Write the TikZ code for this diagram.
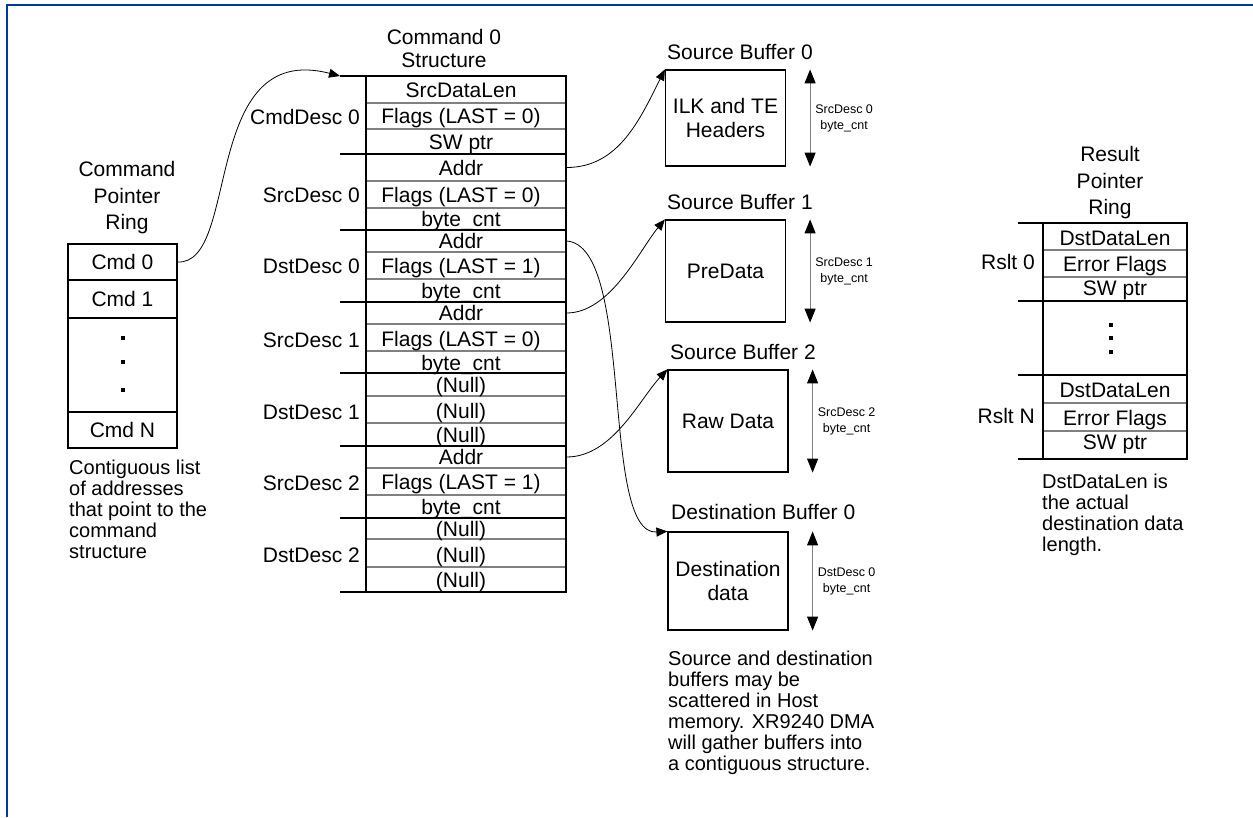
\documentclass[tikz,border=0pt]{standalone}
\usepackage{fontspec}
\setmainfont{Liberation Sans}
\usetikzlibrary{arrows.meta,calc}
\definecolor{frameblue}{RGB}{0,56,160}
\definecolor{rulegray}{RGB}{128,128,128}
\newcommand\fsz[2]{\fontsize{#1}{#2}\selectfont}

\begin{document}
\begin{tikzpicture}[x=1pt,y=-1pt,
  every node/.style={inner sep=0pt},
  celltext/.style={font=\fsz{21}{24},anchor=base},
  tagtext/.style={font=\fsz{21}{24},anchor=base east},
  bufname/.style={font=\fsz{21}{24},anchor=base west},
  notetext/.style={font=\fsz{20}{21},align=left,anchor=north west},
  headtext/.style={font=\fsz{21}{#1},align=center,anchor=north},
  sizetext/.style={font=\fsz{12.5}{16},align=center},
  bufbox/.style={draw,line width=1.2pt,minimum width=120pt,font=\fsz{21}{24},align=center},
  colbox/.style={draw,line width=1.2pt},
  grpline/.style={line width=1.2pt},
  sepline/.style={rulegray,line width=1.1pt},
  link/.style={line width=0.8pt,-{Triangle[length=11pt,width=9pt]}},
  sizearrow/.style={rulegray,line width=1pt,
    {Triangle[length=14pt,width=11pt,color=black]}-{Triangle[length=14pt,width=11pt,color=black]}},
]
\useasboundingbox (0,0) rectangle (1253,817);

% page frame
\draw[frameblue,line width=2pt] (7,817) -- (7,5) -- (1253,5);

% ---------------- Command pointer ring ----------------
\node[headtext=26.5] (cprtitle) at (127,161.5) {Command\\Pointer\\Ring};
\node[colbox,minimum width=109pt,minimum height=204pt] (cpr) at (122.5,346) {};
\foreach \y in {280,318,412} \draw[grpline] (68,\y) -- (177,\y);
\node[celltext] (cmd0) at (122.5,269.5) {Cmd 0};
\node[celltext] (cmd1) at (122.5,306.5) {Cmd 1};
\node[celltext] (cmdn) at (122.5,437.5) {Cmd N};
\foreach \y in {338.3,361.7,390} \fill (122.7,\y) +(-1.9,-1.9) rectangle +(1.9,1.9);
\node[notetext] (cprnote) at (69,459.5)
  {Contiguous list\\of addresses\\that point to the\\command\\structure};

% ---------------- Command 0 structure ----------------
\node[headtext=23.3] (cstitle) at (444,29) {Command 0\\Structure};
\foreach \y in {103,129,181,208,252,279,324,351,396,423,468,495,539,567}
  \draw[sepline] (366,\y) -- (566,\y);
\node[colbox,minimum width=200pt,minimum height=516pt] (cs) at (466,334) {};
\foreach \y in {76,154,230,302,373,446,518,592}
  \draw[grpline] (340,\y) -- (566,\y);
\coordinate (cstop) at (340,76);

\foreach \t/\y [count=\i] in {
  SrcDataLen/89.5, {Flags (LAST = 0)}/116, SW ptr/141.5,
  Addr/167.5, {Flags (LAST = 0)}/194.5, byte\_cnt/219,
  Addr/241, {Flags (LAST = 1)}/265.5, byte\_cnt/290.5,
  Addr/313, {Flags (LAST = 0)}/338.5, byte\_cnt/362.5,
  (Null)/384.5, (Null)/411, (Null)/435,
  Addr/457, {Flags (LAST = 1)}/482, byte\_cnt/507,
  (Null)/528.5, (Null)/555, (Null)/580}
  \node[celltext] (r\i) at (461,\y+7.5) {\t};

\foreach \t/\y [count=\i] in {
  CmdDesc 0/116.7, SrcDesc 0/195, DstDesc 0/265.7, SrcDesc 1/340,
  DstDesc 1/411.7, SrcDesc 2/483, DstDesc 2/555}
  \node[tagtext] (g\i) at (360,\y+7.5) {\t};

% ---------------- Buffers ----------------
\node[bufname] (sb0name) at (667,59.2) {Source Buffer 0};
\node[bufbox,minimum height=96pt] (sb0) at (725.5,118) {ILK and TE\\Headers};
\node[bufname] (sb1name) at (667,209.2) {Source Buffer 1};
\node[bufbox,minimum height=102pt] (sb1) at (725.5,271) {PreData};
\node[bufname] (sb2name) at (670,359.2) {Source Buffer 2};
\node[bufbox,minimum height=102pt] (sb2) at (728,421) {Raw Data};
\node[bufname] (db0name) at (671,519.5) {Destination Buffer 0};
\node[bufbox,minimum height=98pt] (db0) at (728,581) {Destination\\data};

\foreach \b/\t in {sb0/SrcDesc 0, sb1/SrcDesc 1, sb2/SrcDesc 2, db0/DstDesc 0} {
  \draw[sizearrow] ($(\b.north east)+(24,0)$) -- ($(\b.south east)+(24,0)$);
  \node[sizetext] (\b size) at ($(\b.east)+(58,0)$) {\t\\byte\_cnt};
}

\node[notetext] (bufnote) at (668,650.5)
  {Source and destination\\buffers may be\\scattered in Host\\memory. XR9240 DMA\\will gather buffers into\\a contiguous structure.};

% ---------------- Result pointer ring ----------------
\node[headtext=26.5] (rrtitle) at (1110,146.5) {Result\\Pointer\\Ring};
\foreach \y in {250,277,403,431} \draw[sepline] (1043,\y) -- (1187,\y);
\node[colbox,minimum width=144pt,minimum height=236pt] (rr) at (1115,341) {};
\foreach \y in {223,301,375,459} \draw[grpline] (1018,\y) -- (1187,\y);
\node[celltext] (rr1) at (1115,245.8) {DstDataLen};
\node[celltext] (rr2) at (1115,271.5) {Error Flags};
\node[celltext] (rr3) at (1115,295.2) {SW ptr};
\node[celltext] (rr4) at (1115,397.5) {DstDataLen};
\node[celltext] (rr5) at (1115,425.5) {Error Flags};
\node[celltext] (rr6) at (1115,449.2) {SW ptr};
\foreach \y in {325,337.5,352} \fill (1111,\y) +(-2,-2) rectangle +(2,2);
\node[tagtext] (rs0) at (1035,269.2) {Rslt 0};
\node[tagtext] (rsn) at (1035,423.2) {Rslt N};
\node[notetext] (rrnote) at (1042,473.5)
  {DstDataLen is\\the actual\\destination data\\length.};

% ---------------- Pointers ----------------
\draw[link] (cmd0 -| cpr.east) .. controls +(63,3) and +(-140,-36) .. (cstop);
\draw[link] (r4 -| cs.east) .. controls +(52,0) and +(-25,50) .. (sb0.north west);
\draw[link] (r10 -| cs.east) .. controls +(44,0) and +(-25,30) .. (sb1.north west);
\draw[link] (r16 -| cs.east) .. controls +(46,0) and +(-28,30) .. (sb2.north west);
\draw[link] (r7 -| cs.east) .. controls +(69,5) and +(-68,4) .. (db0.north west);
\end{tikzpicture}
\end{document}
